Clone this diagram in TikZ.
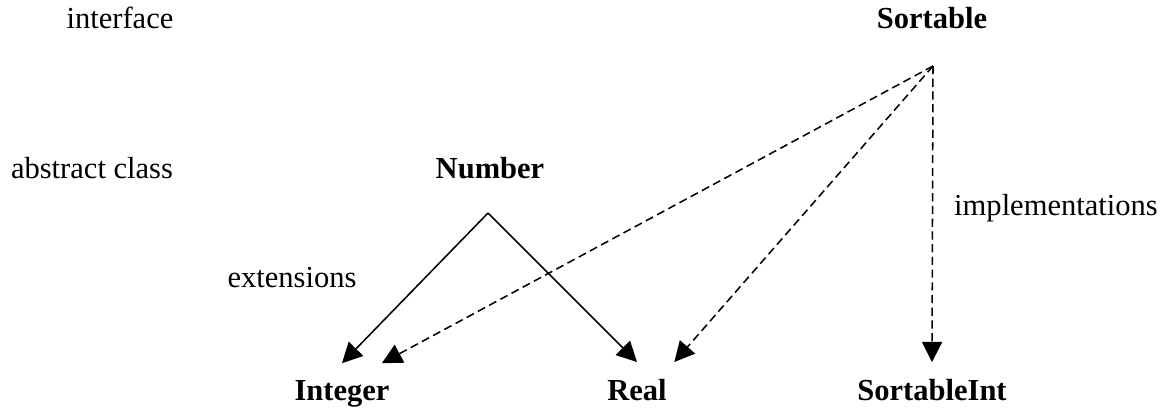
\documentclass[tikz,border=0pt]{standalone}
\usepackage{fontspec}
\setmainfont{Liberation Serif}
\usepackage{tikz}
\usetikzlibrary{arrows.meta, positioning, calc}

\begin{document}
\begin{tikzpicture}[
    x=0.393pt, y=-0.393pt,
    lbl/.style={anchor=base, inner sep=0pt, font=\fontsize{12pt}{14pt}\selectfont},
    cls/.style={anchor=base, inner xsep=0pt, inner ysep=6.6pt, outer sep=0pt,
      font=\fontsize{12pt}{14pt}\selectfont\bfseries},
    ext/.style={line width=0.6pt, -{Triangle[length=7.9pt, width=7.9pt]}},
    impl/.style={ext, dash pattern=on 3.2pt off 1.8pt}
  ]
  \useasboundingbox (0,0) rectangle (1171,407);

  % Row labels
  \node[lbl] (lblinterface) at (120,28) {interface};
  \node[lbl] (lblabstract) at (92,178) {abstract class};

  % Classes
  \node[cls] (sortable) at (932,28) {Sortable};
  \node[cls] (number) at (490,178) {Number};
  \node[cls] (integer) at (342,400) {Integer};
  \node[cls] (real) at (637,400) {Real};
  \node[cls] (sortint) at (932,400) {SortableInt};

  % Apexes
  \coordinate (numtop) at (488,213);
  \coordinate (sorttop) at (933,66);

  % Extensions
  \draw[ext] (numtop) -- (integer.north);
  \draw[ext] (numtop) -- (real.north);

  % Implementations
  \draw[impl] (sorttop) -- ([xshift=-3pt]integer.north east);
  \draw[impl] (sorttop) -- ([xshift=3pt]real.north east);
  \draw[impl] (sorttop) -- (sortint.north);

  % Edge labels
  \node[lbl] (lblext) at (292,287) {extensions};
  \node[lbl] (lblimpl) at (1056,215) {implementations};

\end{tikzpicture}
\end{document}
